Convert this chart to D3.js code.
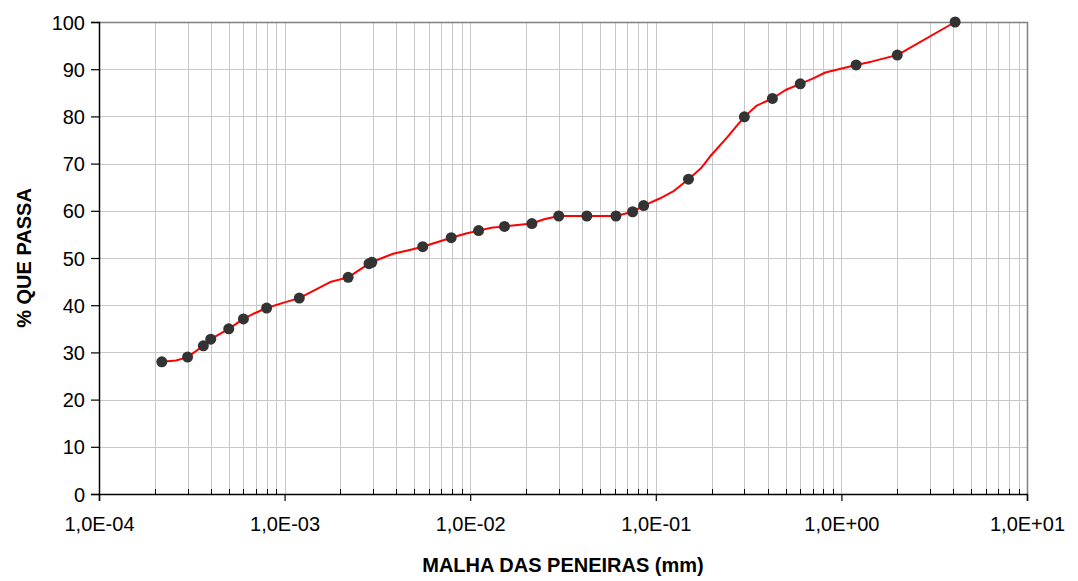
<!DOCTYPE html>
<html>
<head>
<meta charset="utf-8">
<script src="https://cdn.jsdelivr.net/npm/d3@7"></script>
<style>
  html, body { margin: 0; padding: 0; background: #ffffff; }
  svg { display: block; }
  text { font-family: "Liberation Sans", Arial, sans-serif; fill: #000; }
</style>
</head>
<body>
<svg id="chart" width="1078" height="581"></svg>
<script>
// ---- data ----
const sieveSizes = [2.18e-4, 3.0e-4, 3.65e-4, 4.0e-4, 5.0e-4, 6.0e-4, 8.0e-4, 1.2e-3, 2.2e-3, 2.85e-3, 2.95e-3,
  5.55e-3, 7.9e-3, 1.11e-2, 1.53e-2, 2.15e-2, 3.0e-2, 4.25e-2, 6.1e-2, 7.5e-2, 8.6e-2,
  0.15, 0.30, 0.425, 0.60, 1.2, 2.0, 4.1];
const percentPassing = [28.0, 29.0, 31.4, 32.8, 35.0, 37.1, 39.4, 41.5, 45.9, 48.8, 49.1,
  52.4, 54.3, 55.8, 56.7, 57.3, 58.9, 58.9, 58.9, 59.8, 61.1,
  66.7, 79.9, 83.8, 86.9, 90.9, 93.0, 100.0];
// extra vertices of the red fitted curve (between markers)
const curveSizes = [2.6e-4, 6.9e-4, 1.0e-3, 1.76e-3, 3.3e-3, 3.84e-3, 4.6e-3, 9.5e-3, 1.3e-2, 2.5e-2,
  0.105, 0.124, 0.175, 0.196, 0.243, 0.27, 0.35, 0.5, 0.7, 0.82, 1.45, 1.7];
const curvePassing = [28.3, 38.3, 40.6, 44.9, 49.9, 50.9, 51.6, 55.2, 56.4, 58.2,
  62.6, 64.1, 69.0, 71.5, 75.6, 77.8, 82.3, 85.6, 88.0, 89.3, 91.6, 92.3];
const yTicks = [0, 10, 20, 30, 40, 50, 60, 70, 80, 90, 100];
const xMajorTicks = [1e-4, 1e-3, 1e-2, 1e-1, 1e0, 1e1];
const xTickLabels = ["1,0E-04", "1,0E-03", "1,0E-02", "1,0E-01", "1,0E+00", "1,0E+01"];
const xTitle = "MALHA DAS PENEIRAS (mm)";
const yTitle = "% QUE PASSA";

// ---- layout ----
const L = 99, R = 1027, T = 22, B = 494;
const svg = d3.select("#chart");
const x = d3.scaleLog().domain([1e-4, 10]).range([L, R]);
const y = d3.scaleLinear().domain([0, 100]).range([B, T]);

// minor ticks 2..9 per decade
const minorTicks = [];
for (let e = -4; e < 1; e++) for (let m = 2; m <= 9; m++) minorTicks.push(m * Math.pow(10, e));

const grid = svg.append("g");
grid.selectAll("line.v").data(minorTicks.concat(xMajorTicks.slice(1, -1))).join("line")
  .attr("x1", d => Math.round(x(d)) + 0.5).attr("x2", d => Math.round(x(d)) + 0.5)
  .attr("y1", T).attr("y2", B)
  .attr("stroke", "#c8c8c8").attr("stroke-width", 1);
grid.selectAll("line.h").data(yTicks.slice(1, -1)).join("line")
  .attr("x1", L).attr("x2", R)
  .attr("y1", d => Math.round(y(d)) + 0.5).attr("y2", d => Math.round(y(d)) + 0.5)
  .attr("stroke", "#c8c8c8").attr("stroke-width", 1);

// top/right border (gray)
svg.append("path")
  .attr("d", `M${L},${T + 0.5}H${R + 0.5}V${B}`)
  .attr("fill", "none").attr("stroke", "#808080").attr("stroke-width", 1.5);

// y axis
const yAxis = d3.axisLeft(y).tickValues(yTicks).tickSize(8).tickPadding(6).tickFormat(d3.format("d"));
const gy = svg.append("g").attr("transform", `translate(${L},0)`).call(yAxis);
gy.select(".domain").attr("stroke", "#000").attr("stroke-width", 1.5);
gy.selectAll(".tick line").attr("stroke", "#000").attr("stroke-width", 1.2);
gy.selectAll(".tick text").style("font-size", "20px").attr("font-family", "Liberation Sans, Arial, sans-serif").attr("dy", "0.35em");

// x axis (major ticks below)
const xAxis = d3.axisBottom(x).tickValues(xMajorTicks).tickSize(7).tickPadding(16)
  .tickFormat((d, i) => xTickLabels[i]);
const gx = svg.append("g").attr("transform", `translate(0,${B})`).call(xAxis);
gx.select(".domain").attr("stroke", "#000").attr("stroke-width", 1.5);
gx.selectAll(".tick line").attr("stroke", "#000").attr("stroke-width", 1.2);
gx.selectAll(".tick text").style("font-size", "20px").attr("font-family", "Liberation Sans, Arial, sans-serif");
// minor ticks inside
svg.append("g").selectAll("line").data(minorTicks).join("line")
  .attr("x1", d => Math.round(x(d)) + 0.5).attr("x2", d => Math.round(x(d)) + 0.5)
  .attr("y1", B - 5).attr("y2", B)
  .attr("stroke", "#000").attr("stroke-width", 1);

// red curve
const lineData = sieveSizes.map((s, i) => [s, percentPassing[i]])
  .concat(curveSizes.map((s, i) => [s, curvePassing[i]]))
  .sort((a, b) => a[0] - b[0]);
const line = d3.line().x(d => x(d[0])).y(d => y(d[1])).curve(d3.curveLinear);
svg.append("path").datum(lineData).attr("d", line)
  .attr("fill", "none").attr("stroke", "#ff0000").attr("stroke-width", 2).attr("stroke-linejoin", "round");

// markers
svg.append("g").selectAll("circle").data(sieveSizes.map((s, i) => [s, percentPassing[i]])).join("circle")
  .attr("cx", d => x(d[0])).attr("cy", d => y(d[1])).attr("r", 5.5)
  .attr("fill", "#333333");

// titles
svg.append("text").attr("x", (L + R) / 2).attr("y", 572).attr("text-anchor", "middle")
  .style("font-size", "20px").style("font-weight", "bold").text(xTitle);
svg.append("text").attr("transform", `translate(31,${(T + B) / 2}) rotate(-90)`).attr("text-anchor", "middle")
  .style("font-size", "20px").style("font-weight", "bold").text(yTitle);
</script>
</body>
</html>
